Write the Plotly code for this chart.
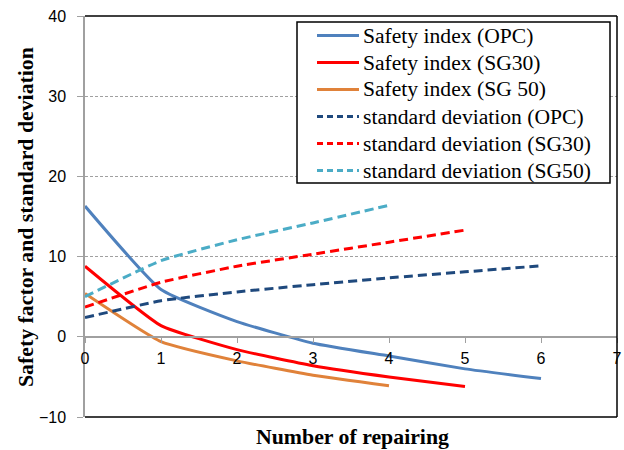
import plotly.graph_objects as go

x_opc = [0, 1, 2, 3, 4, 5, 6]
x_sg30 = [0, 1, 2, 3, 4, 5]
x_sg50 = [0, 1, 2, 3, 4]

si_opc = [16.3, 5.9, 1.9, -0.8, -2.4, -4.0, -5.2]
si_sg30 = [8.8, 1.4, -1.6, -3.6, -5.0, -6.2]
si_sg50 = [5.4, -0.6, -3.0, -4.8, -6.1]

sd_opc = [2.4, 4.5, 5.6, 6.5, 7.35, 8.1, 8.85]
sd_sg30 = [3.7, 6.8, 8.8, 10.3, 11.8, 13.3]
sd_sg50 = [5.0, 9.5, 12.1, 14.2, 16.4]

names = ["Safety index (OPC)", "Safety index (SG30)", "Safety index (SG 50)",
         "standard deviation (OPC)", "standard deviation (SG30)", "standard deviation (SG50)"]
colors = ["#4F81BD", "#FF0000", "#E0823A", "#1F497D", "#FF0000", "#4BACC6"]
x_title = "Number of repairing"
y_title = "Safety factor and standard deviation"

series = [(x_opc, si_opc), (x_sg30, si_sg30), (x_sg50, si_sg50),
          (x_opc, sd_opc), (x_sg30, sd_sg30), (x_sg50, sd_sg50)]

W, H = 624, 450
L, R, T, B = 85, 7, 16, 33
PW, PH = W - L - R, H - T - B


def px(xpix):
    return (xpix - L) / PW


def py(ypix):
    return (H - B - ypix) / PH


DASH = "9px,5px"
fig = go.Figure()
for i, ((xs, ys), nm, c) in enumerate(zip(series, names, colors)):
    dash = "solid" if i < 3 else DASH
    fig.add_trace(go.Scatter(x=xs, y=ys, mode="lines", name=nm, showlegend=False,
                             line=dict(color=c, width=3, dash=dash, shape="spline", smoothing=0.45)))

shapes = []
# plot box (top, right, bottom in black)
for (x0, y0, x1, y1) in [(0, 1, 1, 1), (1, 0, 1, 1), (0, 0, 1, 0)]:
    shapes.append(dict(type="line", xref="paper", yref="paper", x0=x0, y0=y0, x1=x1, y1=y1,
                       line=dict(color="black", width=1.5)))

# manual legend
shapes.append(dict(type="rect", xref="paper", yref="paper", x0=px(297), x1=px(610), y0=py(183), y1=py(22),
                   fillcolor="white", line=dict(color="black", width=1.5)))
annotations = []
for i, (nm, c) in enumerate(zip(names, colors)):
    yc = 35.5 + 27 * i
    shapes.append(dict(type="line", xref="paper", yref="paper", x0=px(317), x1=px(359), y0=py(yc), y1=py(yc),
                       line=dict(color=c, width=3, dash="solid" if i < 3 else "6px,4px")))
    annotations.append(dict(text=nm, xref="paper", yref="paper", x=px(361), y=py(yc),
                            xanchor="left", yanchor="middle", showarrow=False,
                            font=dict(family="Liberation Serif", size=21.6, color="black")))

annotations += [
    dict(text="<b>" + x_title + "</b>", xref="paper", yref="paper", x=px(352), y=py(437),
         xanchor="center", yanchor="middle", showarrow=False,
         font=dict(family="Liberation Serif", size=21.8, color="black")),
    dict(text="<b>" + y_title + "</b>", xref="paper", yref="paper",
         x=px(26), y=py(217), xanchor="center", yanchor="middle", textangle=-90, showarrow=False,
         font=dict(family="Liberation Serif", size=21.8, color="black")),
]

fig.update_layout(
    width=W, height=H,
    margin=dict(l=L, r=R, t=T, b=B, autoexpand=False),
    plot_bgcolor="white", paper_bgcolor="white",
    showlegend=False,
    shapes=shapes,
    annotations=annotations,
    xaxis=dict(range=[0, 7], dtick=1, tick0=0, showgrid=False, zeroline=False, automargin=False,
               showline=True, linecolor="#A0A0A0", linewidth=1.5,
               anchor="free", position=0.2,
               ticks="outside", ticklen=5, tickcolor="#A0A0A0", ticklabelstandoff=2,
               tickfont=dict(family="Liberation Sans", size=16, color="black")),
    yaxis=dict(range=[-10, 40], dtick=10, tick0=0, showgrid=True, gridcolor="#A0A0A0",
               griddash="3px,2px", gridwidth=1, zeroline=False, automargin=False,
               showline=True, linecolor="#A0A0A0", linewidth=1.5,
               ticks="outside", ticklen=6, tickcolor="#A0A0A0", ticklabelstandoff=8,
               tickfont=dict(family="Liberation Sans", size=16, color="black")),
)

fig.write_html("out.html", config={"displayModeBar": False},
               post_script="document.body.style.margin='0';")
